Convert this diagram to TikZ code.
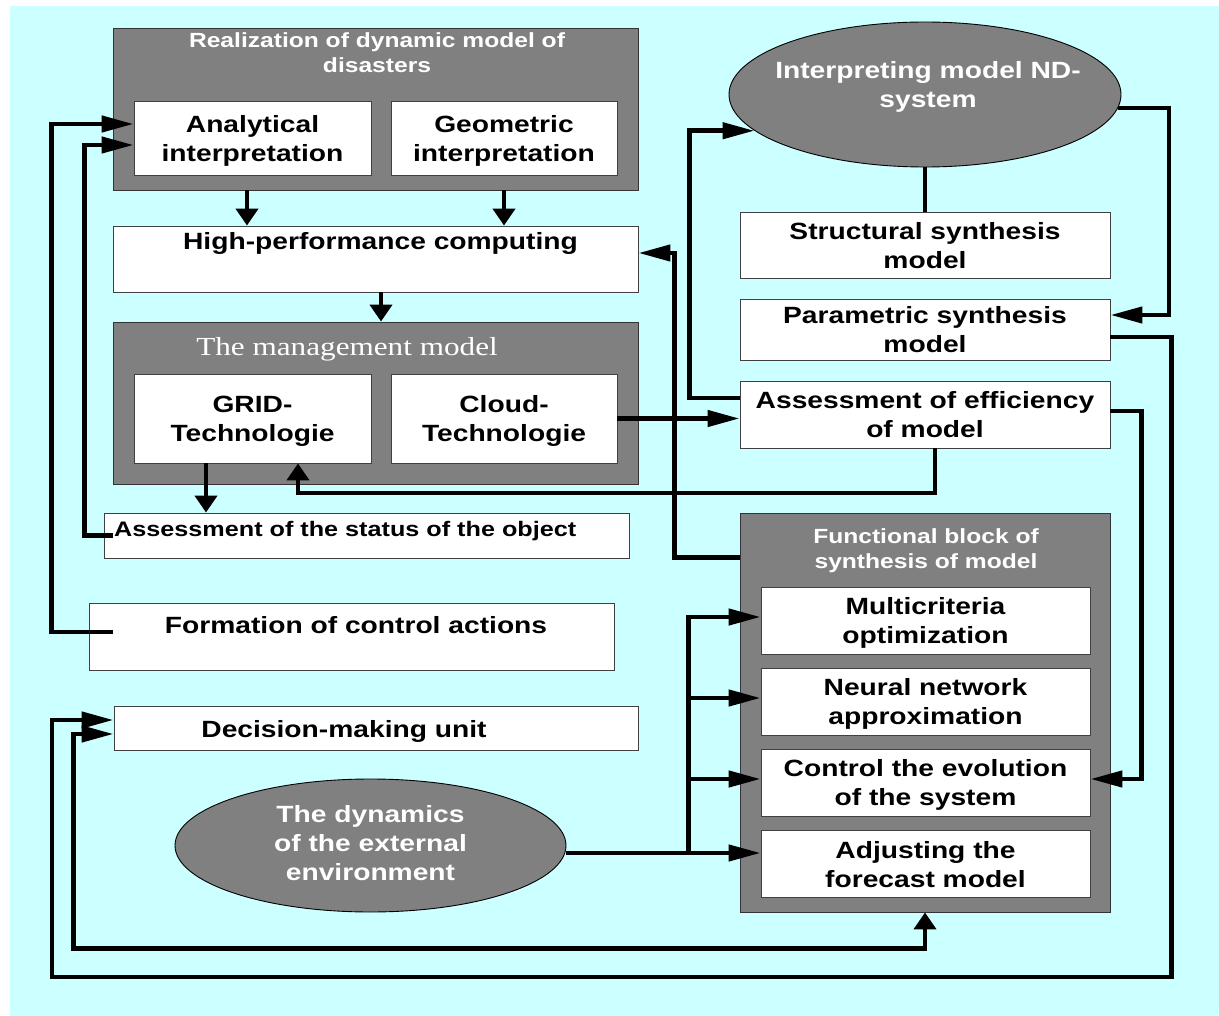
\documentclass[tikz,border=0pt]{standalone}
\usepackage{fontspec}
\setmainfont{Liberation Sans}[FakeStretch=1.2]
\newfontfamily\tnrfont{Liberation Serif}[FakeStretch=1.2]
\usetikzlibrary{arrows.meta,shapes.geometric,calc}
\definecolor{cyanbg}{HTML}{CCFFFF}
\definecolor{graybx}{HTML}{808080}
\newcommand\mainsz{\bfseries\fontsize{23.5pt}{29pt}\selectfont}
\newcommand\titlesz{\bfseries\fontsize{20.5pt}{25pt}\selectfont}
\newcommand\statsz{\bfseries\fontsize{21pt}{25pt}\selectfont}
\newcommand\mgmtsz{\tnrfont\fontsize{26pt}{30pt}\selectfont}
\begin{document}
\begin{tikzpicture}[x=1pt,y=-1pt,
  wbox/.style={draw=black!75, line width=0.9pt, fill=white, inner sep=0pt, align=center, font=\mainsz, text depth=0pt},
  gbox/.style={draw=black!80, line width=0.9pt, fill=graybx, inner sep=0pt},
  gell/.style={ellipse, draw=black, line width=0.9pt, fill=graybx, inner sep=0pt},
  wtitle/.style={text=white, align=center, font=\titlesz, inner sep=0pt, text depth=0pt},
  txt/.style={inner sep=0pt, font=\mainsz},
  conn/.style={line width=4.5pt, draw=black},
  ha/.style={-{Triangle[length=32pt,width=16pt]}},
  va/.style={-{Triangle[length=17pt,width=22pt]}}
]
\useasboundingbox (0,0) rectangle (1219,1016);
\fill[cyanbg] (10,6) rectangle (1219,1016);

% left column
\node[gbox, minimum width=525pt, minimum height=162pt] (real) at (375.5,109) {};
\node[wtitle] (realt) at (377,52.5) {Realization of dynamic model of\\disasters};
\node[wbox, minimum width=237pt, minimum height=74pt] (ana) at (252.5,138) {Analytical\\interpretation};
\node[wbox, minimum width=226pt, minimum height=74pt] (geo) at (504,138) {Geometric\\interpretation};

\node[wbox, minimum width=525pt, minimum height=66pt] (hpc) at (375.5,259) {};
\node[txt, anchor=base] (hpct) at (380.5,249.4) {High-performance computing};

\node[gbox, minimum width=525pt, minimum height=162pt] (mgmt) at (375.5,403) {};
\node[inner sep=0pt, text=white, font=\mgmtsz, anchor=base] (mgmtt) at (347,355.6) {The management model};
\node[wbox, minimum width=237pt, minimum height=89pt] (grid) at (252.5,418.5) {GRID-\\Technologie};
\node[wbox, minimum width=226pt, minimum height=89pt] (cloud) at (504,418.5) {Cloud-\\Technologie};

\node[wbox, minimum width=525pt, minimum height=45pt] (status) at (366.5,535.5) {};
\node[inner sep=0pt, font=\statsz, anchor=base west] (statust) at (114,536.5) {Assessment of the status of the object};

\node[wbox, minimum width=525pt, minimum height=67pt] (form) at (351.5,636.5) {};
\node[txt, anchor=base] (formt) at (356,633.4) {Formation of control actions};

\node[wbox, minimum width=524pt, minimum height=44pt] (dec) at (376,728) {};
\node[txt, anchor=base] (dect) at (344,737.4) {Decision-making unit};

\node[gell, minimum width=391pt, minimum height=133pt] (dyn) at (370.5,845.5) {};
\node[txt, text=white, align=center, text depth=0pt] (dynt) at (370.5,843) {The dynamics\\of the external\\environment};

% right column
\node[gell, minimum width=392pt, minimum height=145pt] (interp) at (925,94.5) {};
\node[txt, text=white, align=center, text depth=0pt] (interpt) at (928,84) {Interpreting model ND-\\system};
\node[wbox, minimum width=370pt, minimum height=66pt] (struct) at (925,245) {Structural synthesis\\model};
\node[wbox, minimum width=370pt, minimum height=61pt] (param) at (925,329.5) {Parametric synthesis\\model};
\node[wbox, minimum width=370pt, minimum height=67pt] (assess) at (925,414.5) {Assessment of efficiency\\of model};

\node[gbox, minimum width=370pt, minimum height=399pt] (func) at (925,712.5) {};
\node[wtitle] (funct) at (926,548.3) {Functional block of\\synthesis of model};
\node[wbox, minimum width=329pt, minimum height=67pt] (multi) at (925.5,620.5) {Multicriteria\\optimization};
\node[wbox, minimum width=329pt, minimum height=67pt] (neural) at (925.5,701.5) {Neural network\\approximation};
\node[wbox, minimum width=329pt, minimum height=67pt] (control) at (925.5,782.5) {Control the evolution\\of the system};
\node[wbox, minimum width=329pt, minimum height=67pt] (adjust) at (925.5,864) {Adjusting the\\forecast model};

\coordinate (b1) at (52,977);

% connectors
\draw[conn,va] ([xshift=-5.5pt]ana.south |- real.south) -- ([xshift=-5.5pt]ana.south |- hpc.north);
\draw[conn,va] (geo.south |- real.south) -- (geo.south |- hpc.north);
\draw[conn,va] ([xshift=5.5pt]hpc.south) -- ([xshift=5.5pt]mgmt.north);
\draw[conn,va] ([xshift=-46.5pt]grid.south) -- ([xshift=-46.5pt]grid.south |- status.north);
\draw[conn,ha] (cloud.east) -- (cloud.east -| assess.west);
\draw[conn,va] ([xshift=10pt]assess.south) -- ++(0,44.5) -| ([xshift=45.5pt]grid.south);
\draw[conn,ha] ([yshift=16.5pt]assess.west) -- ++(-50,0) |- (interp.192.6);
\draw[conn,ha] ([yshift=-45pt]func.north west) -- ++(-65,0) |- ([yshift=6pt]hpc.east);
\draw[conn] (interp.south) -- (struct.north);
\draw[conn,ha] (interp.-4) -- ++(51,0) |- ([yshift=14.5pt]param.east);
\draw[conn,ha] ([yshift=-7.5pt]param.east) -- ++(61,0) |- (b1) |- ([yshift=8pt]dec.west);
\draw[conn,ha] ([yshift=3.5pt]assess.east) -- ++(31,0) |- ([yshift=3.5pt]control.east);
\draw[conn,ha] ([yshift=11pt]adjust.west -| dyn.east) -- ([yshift=11pt]adjust.west);
\draw[conn,ha] ([yshift=11pt,xshift=-72pt]adjust.west) |- ([yshift=3.5pt]multi.west);
\draw[conn,ha] ([yshift=11pt,xshift=-72pt]adjust.west) |- ([yshift=3.5pt]neural.west);
\draw[conn,ha] ([yshift=11pt,xshift=-72pt]adjust.west) |- ([yshift=3.5pt]control.west);
\draw[conn,{Triangle[length=17pt,width=22pt]}-{Triangle[length=32pt,width=16pt]}] (func.south) -- ++(0,36) -| ([xshift=-40pt,yshift=-6pt]dec.west) -- ([yshift=-6pt]dec.west);
\draw[conn,ha] ([xshift=24pt,yshift=4.5pt]form.west) -- ++(-61,0) |- ([yshift=14pt]ana.west);
\draw[conn,ha] ([xshift=9pt]status.west) -- ++(-28,0) |- ([yshift=-7pt]ana.west);
\end{tikzpicture}
\end{document}
